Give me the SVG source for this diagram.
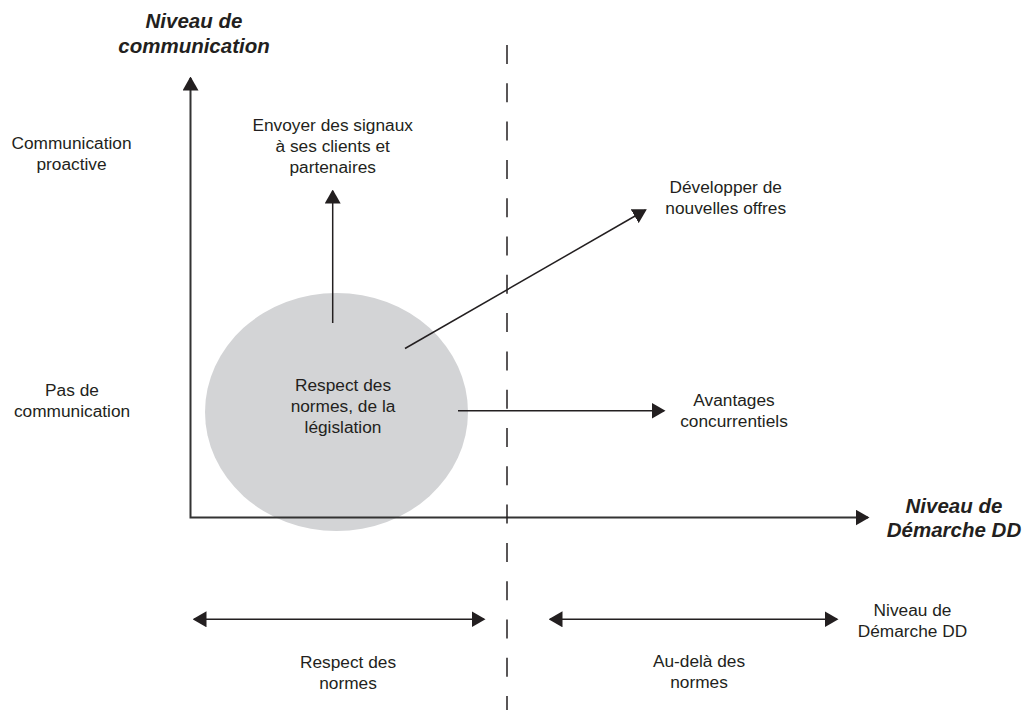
<svg xmlns="http://www.w3.org/2000/svg" width="1029" height="710" viewBox="0 0 1029 710">
<style>
text{font-family:"Liberation Sans",Arial,sans-serif;font-size:17.3px;fill:#231f20;text-anchor:middle}
.title{font-weight:bold;font-style:italic;font-size:20.5px}
.ln{stroke:#231f20;fill:none;stroke-width:1.5}
.axis{stroke:#333;fill:none;stroke-width:2}
</style>
<defs>
<marker id="ah" viewBox="0 0 14 16" refX="12.5" refY="8" markerWidth="14" markerHeight="16" markerUnits="userSpaceOnUse" orient="auto-start-reverse">
<path d="M0,0 L14,8 L0,16 z" fill="#231f20"/>
</marker>
</defs>
<rect width="1029" height="710" fill="#fff"/>
<g id="zone-normes">
<ellipse cx="336.5" cy="412" rx="131.5" ry="119" fill="#d3d4d6"/>
<text x="343" y="391">Respect des</text>
<text x="343" y="412">normes, de la</text>
<text x="343" y="433">législation</text>
</g>
<g id="connectors">
<path class="axis" d="M190.5,78 V517.5 H868" marker-start="url(#ah)" marker-end="url(#ah)"/>
<line class="ln" x1="507" y1="45" x2="507" y2="710" stroke-dasharray="19 19.3"/>
<line class="ln" x1="332.7" y1="323" x2="332.7" y2="191" marker-end="url(#ah)"/>
<line class="ln" x1="405" y1="348.5" x2="645.5" y2="210" marker-end="url(#ah)"/>
<line class="ln" x1="458" y1="410.7" x2="664" y2="410.7" marker-end="url(#ah)"/>
<line class="ln" x1="194" y1="619.3" x2="484" y2="619.3" marker-start="url(#ah)" marker-end="url(#ah)"/>
<line class="ln" x1="550" y1="619.3" x2="837" y2="619.3" marker-start="url(#ah)" marker-end="url(#ah)"/>
</g>
<g id="axis-y-title"><text class="title" x="194" y="28">Niveau de</text><text class="title" x="194" y="53">communication</text></g>
<g id="axis-x-title"><text class="title" x="954" y="513">Niveau de</text><text class="title" x="954" y="537">Démarche DD</text></g>
<g id="label-proactive"><text x="71.5" y="149">Communication</text><text x="71.5" y="170">proactive</text></g>
<g id="label-pas"><text x="72" y="396">Pas de</text><text x="72" y="417">communication</text></g>
<g id="label-signaux"><text x="332.7" y="131">Envoyer des signaux</text><text x="332.7" y="152">à ses clients et</text><text x="332.7" y="173">partenaires</text></g>
<g id="label-offres"><text x="725.7" y="193">Développer de</text><text x="725.7" y="213.5">nouvelles offres</text></g>
<g id="label-avantages"><text x="734" y="406">Avantages</text><text x="734" y="427">concurrentiels</text></g>
<g id="label-respect"><text x="348" y="668">Respect des</text><text x="348" y="688.5">normes</text></g>
<g id="label-audela"><text x="699" y="667">Au-delà des</text><text x="699" y="688">normes</text></g>
<g id="label-niveau"><text x="912.5" y="616">Niveau de</text><text x="912.5" y="637">Démarche DD</text></g>
</svg>
